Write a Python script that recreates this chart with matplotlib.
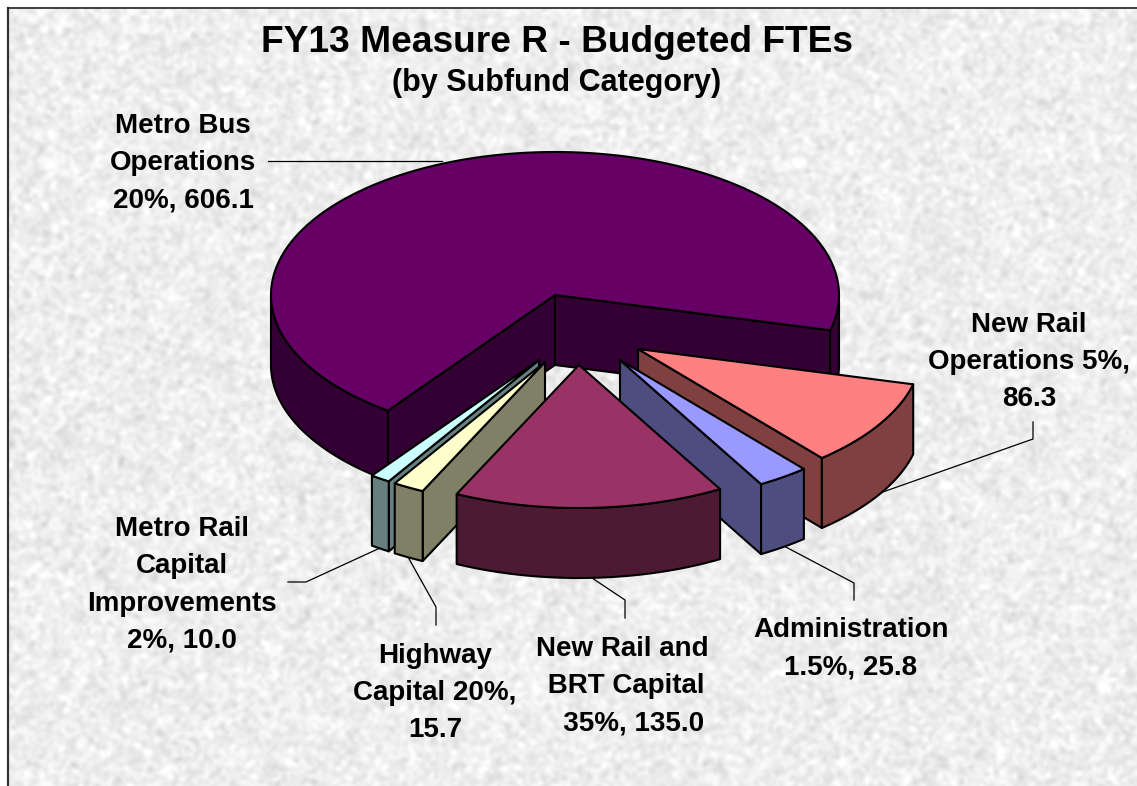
import numpy as np
import matplotlib
matplotlib.use('Agg')
import matplotlib.pyplot as plt
from matplotlib.patches import Polygon

categories = ['Metro Bus Operations', 'New Rail Operations', 'Administration',
              'New Rail and BRT Capital', 'Highway Capital', 'Metro Rail Capital Improvements']
values = [606.1, 86.3, 25.8, 135.0, 15.7, 10.0]
labels = ['Metro Bus\nOperations\n20%, 606.1',
          'New Rail\nOperations 5%,\n86.3',
          'Administration\n1.5%, 25.8',
          'New Rail and\n\u00a0BRT Capital\n\u00a0\u00a0\u00a035%, 135.0',
          'Highway\nCapital 20%,\n15.7',
          'Metro Rail\nCapital\nImprovements\n2%, 10.0']
top_colors = ['#660066', '#FF8080', '#9999FF', '#993366', '#FFFFCC', '#CCFFFF']
wall_colors = ['#330033', '#804040', '#4D4D80', '#4D1A33', '#808066', '#668080']

# where each slice tip sits after the explode, pixels
tips = [(555, 295), (638, 349), (620, 360), (579, 365), (545, 362), (539, 360)]
label_pos = [(183, 163), (1029, 362), (851, 649), (622, 686), (435, 693), (182, 585)]
leaders = [[(268, 161), (442, 161)],
           [(1033, 422), (1033, 439), (880, 493)],
           [(782, 545), (854, 583), (854, 600)],
           [(592, 578), (625, 600), (625, 618)],
           [(408, 557), (436, 607), (436, 625)],
           [(380, 548), (306, 582), (288, 582)]]
RX, RY, DEPTH = 284, 143, 70
START = -14.3

W, H = 1137, 786
fig = plt.figure(figsize=(W / 100, H / 100), dpi=100)
fig.patch.set_facecolor('white')
ax = fig.add_axes([0, 0, 1, 1])
ax.set_xlim(0, W)
ax.set_ylim(H, 0)
ax.axis('off')


def blur(a, n):
    # repeated box blur, wraps round the edges
    for _ in range(2):
        for axis in (0, 1):
            a = sum(np.roll(a, k, axis=axis) for k in range(-n, n + 1)) / (2 * n + 1)
    return a


# granite texture of the slide background
rng = np.random.default_rng(4)
fine = blur(rng.normal(size=(H, W)), 2)
coarse = blur(rng.normal(size=(H, W)), 5)
tex = 238 + 6 * fine / fine.std() + 1.5 * coarse / coarse.std()
ax.imshow(np.clip(tex, 190, 255), cmap='gray', vmin=0, vmax=255, extent=(8, W, H, 8),
          aspect='auto', zorder=0, interpolation='bilinear')
ax.plot([8, 8], [H, 8], color='#333333', lw=1.6, zorder=1)
ax.plot([8, W], [8, 8], color='#222222', lw=1.2, zorder=1)


def pt(tip, deg, drop=0):
    r = np.radians(deg)
    return tip[0] + RX * np.cos(r), tip[1] - RY * np.sin(r) + drop


def arc(tip, a, b, drop=0):
    ang = np.linspace(a, b, max(int(abs(b - a)) * 2, 2))
    return [pt(tip, d, drop) for d in ang]


def draw_slice(i, lo, hi, z):
    tip = tips[i]
    top, wall = top_colors[i], wall_colors[i]
    kw = dict(edgecolor='black', lw=1.5, joinstyle='round', zorder=z)
    bottom = (tip[0], tip[1] + DEPTH)
    # cut faces, only those looking at the viewer
    cuts = []
    if np.sin(np.radians(hi + 90)) < 0:
        cuts.append(hi)
    if np.sin(np.radians(lo - 90)) < 0:
        cuts.append(lo)
    for c in cuts:
        p = pt(tip, c)
        ax.add_patch(Polygon([tip, p, (p[0], p[1] + DEPTH), bottom], facecolor=wall, **kw))
    # rim, lower half of the ellipse only
    for w0, w1 in ((-180, 0), (180, 360)):
        a, b = max(lo, w0), min(hi, w1)
        if b > a:
            rim = arc(tip, a, b) + arc(tip, b, a, DEPTH)
            ax.add_patch(Polygon(rim, facecolor=wall, **kw))
    ax.add_patch(Polygon([tip] + arc(tip, lo, hi), facecolor=top, **kw))


# angles from the values, bus counter clockwise from START, rest clockwise
total = sum(values)
spans = [v / total * 360 for v in values]
ranges = [(START, START + spans[0])]
a = START
for s in spans[1:]:
    ranges.append((a - s, a))
    a -= s

# back to front
for z, i in enumerate([0, 5, 4, 1, 2, 3]):
    lo, hi = ranges[i]
    draw_slice(i, lo, hi, 3 + z)

for pts in leaders:
    xs, ys = zip(*pts)
    ax.plot(xs, ys, color='black', lw=0.9, zorder=2)

font = 'Liberation Sans'
ax.text(557, 42, 'FY13 Measure R - Budgeted FTEs', ha='center', va='center', family=font,
        weight='bold', fontsize=26.7, zorder=12)
ax.text(557, 83, '(by Subfund Category)', ha='center', va='center', family=font,
        weight='bold', fontsize=22, zorder=12)
for lab, (x, y) in zip(labels, label_pos):
    ax.text(x, y, lab, ha='center', va='center', family=font, weight='bold', fontsize=20,
            linespacing=1.56, zorder=12)

fig.savefig('out.png', dpi=100)
